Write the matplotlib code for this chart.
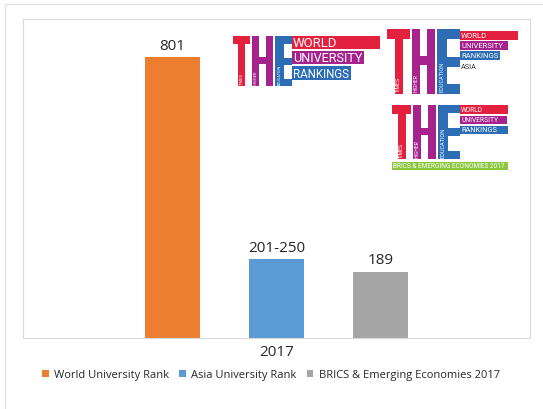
import numpy as np
import matplotlib
matplotlib.use('Agg')
import matplotlib.pyplot as plt
from matplotlib.patches import Rectangle

# data
year = '2017'
series = ['World University Rank', 'Asia University Rank', 'BRICS & Emerging Economies 2017']
values = [801, 225, 189]          # 201-250 band drawn at ~225
labels = ['801', '201-250', '189']
colors = ['#ED7D31', '#5B9BD5', '#A5A5A5']

W, H = 543, 410
fig = plt.figure(figsize=(W / 100, H / 100), dpi=100)
font = ['Open Sans', 'DejaVu Sans']
narrow = ['Roboto', 'DejaVu Sans']

# plot area in pixels
left, right, top, bottom = 23, 530, 20, 339
ax = fig.add_axes([left / W, 1 - bottom / H, (right - left) / W, (bottom - top) / H])
x = np.arange(len(values)) - 1
bars = ax.bar(x, values, width=0.53, color=colors, label=series)
for xi, v, lab in zip(x, values, labels):
    ax.text(xi, v + 12, lab, ha='center', va='bottom', fontsize=11,
            color='#262626', family=font)
ax.set_xlim(-2.4375, 2.4375)
ax.set_ylim(0, 909)
ax.set_yticks([])
ax.set_xticks([0])
ax.set_xticklabels([year], fontsize=11, color='#262626', family=font)
ax.tick_params(axis='x', length=0, pad=4)
for s in ax.spines.values():
    s.set_color('#D9D9D9')
    s.set_linewidth(0.8)

fig.legend(handles=list(bars), labels=series, loc='center', bbox_to_anchor=(271 / W, 1 - 376 / H),
           ncol=3, frameon=False, handlelength=0.6, handleheight=0.6, handletextpad=0.5,
           columnspacing=0.9, prop={'family': font, 'size': 8}, labelcolor='#262626')

# overlay in pixel coords for border + logos
ov = fig.add_axes([0, 0, 1, 1], zorder=5)
ov.set_xlim(0, W)
ov.set_ylim(H, 0)
ov.axis('off')
ov.add_patch(Rectangle((5, 5), 600, 500, fill=False, ec='#E3E3E3', lw=1))

RED, PUR, BLU, GRN = '#E4203F', '#A6238E', '#2C6DB5', '#8CC63F'
rend = fig.canvas.get_renderer()


def box(x0, y0, x1, y1, c):
    ov.add_patch(Rectangle((x0, y0), x1 - x0, y1 - y0, color=c, lw=0))


def fit_text(x0, y0, x1, y1, txt, c='white'):
    # real text, font size picked so the word spans the wanted width
    t = ov.text(x0, (y0 + y1) / 2, txt, ha='left', va='center', color=c,
                fontsize=10, family=narrow)
    w = t.get_window_extent(rend).width
    t.set_fontsize(min(10 * (x1 - x0) / w, (y1 - y0) * 1.25))


def fit_vert(xc, yb, length, th, txt, c='white'):
    t = ov.text(xc, yb, txt, rotation=90, ha='center', va='bottom', color=c,
                fontsize=10, family=narrow)
    h = t.get_window_extent(rend).height
    t.set_fontsize(min(10 * length / h, th * 1.3))


def the_letters(tx, hx, ex, ex1, y0, y1, bar_w):
    # T
    box(tx, y0, hx - 2, y0 + (y1 - y0) * 0.16, RED)
    mid = (tx + hx - 2) / 2
    box(mid - bar_w / 2, y0, mid + bar_w / 2, y1, RED)
    # H
    box(hx, y0, hx + bar_w, y1, PUR)
    box(ex - 2 - bar_w, y0, ex - 2, y1, PUR)
    hy = y0 + (y1 - y0) * 0.42
    box(hx, hy, ex - 2, hy + (y1 - y0) * 0.13, PUR)
    # E
    box(ex, y0, ex + bar_w * 1.3, y1, BLU)
    for f in (0, 0.43, 0.85):
        box(ex, y0 + (y1 - y0) * f, ex1, y0 + (y1 - y0) * (f + 0.15), BLU)
    return mid, hx + bar_w / 2, ex + bar_w * 0.65


# logo 1: World University Rankings
m = the_letters(233, 252, 275, 292, 37, 87, 7)
box(292, 37, 380, 50, RED)
fit_text(293, 38, 337, 49, 'WORLD')
box(292, 52, 364, 65, PUR)
fit_text(293, 53, 362, 64, 'UNIVERSITY')
box(292, 67, 351, 81, BLU)
fit_text(293, 68, 349, 80, 'RANKINGS')
fit_vert(m[0], 85, 12, 3.5, 'TIMES')
fit_vert(m[1], 85, 14, 3.5, 'HIGHER')
fit_vert(m[2], 85, 20, 3.5, 'EDUCATION')

# logo 2: Asia
m = the_letters(387, 412, 437, 460, 30, 95, 8)
box(460, 32, 518, 41, RED)
fit_text(461, 32.5, 487, 40.5, 'WORLD')
box(460, 42, 508, 51, PUR)
fit_text(461, 42.5, 503, 50.5, 'UNIVERSITY')
box(460, 52, 500, 61, BLU)
fit_text(461, 52.5, 498, 60.5, 'RANKINGS')
fit_text(461, 63.5, 477, 71.5, 'ASIA', '#333333')
fit_vert(m[0], 92, 15, 5, 'TIMES')
fit_vert(m[1], 92, 18, 5, 'HIGHER')
fit_vert(m[2], 92, 30, 5, 'EDUCATION')

# logo 3: BRICS & Emerging Economies
m = the_letters(392, 413, 438, 460, 106, 160, 8)
box(460, 106, 508, 115, RED)
fit_text(461, 106.5, 483, 114.5, 'WORLD')
box(460, 117, 507, 125, PUR)
fit_text(461, 117, 498, 125, 'UNIVERSITY')
box(460, 127, 508, 135, BLU)
fit_text(461, 127, 497, 135, 'RANKINGS')
box(392, 163, 508, 171, GRN)
fit_text(393, 163, 505, 171, 'BRICS & EMERGING ECONOMIES 2017')
fit_vert(m[0], 158, 15, 5, 'TIMES')
fit_vert(m[1], 158, 18, 5, 'HIGHER')
fit_vert(m[2], 158, 30, 5, 'EDUCATION')

fig.savefig('out.png', dpi=100)
